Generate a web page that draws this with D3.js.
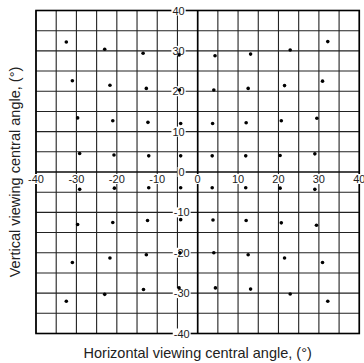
<!DOCTYPE html>
<html lang="en">
<head>
<meta charset="UTF-8">
<title>Viewing central angles</title>
<script src="https://d3js.org/d3.v7.min.js"></script>
<style>
    body { margin: 0; background: #fff; }
    svg { display: block; font-family: "Liberation Sans", Arial, sans-serif; }
</style>
</head>
<body>
<div id="chart"></div>
<script>
    // Measured points (degrees), rows from top to bottom, columns left to right
    const hAngle = [
        -32.5, -23.0, -13.5, -4.6, 4.3, 13.1, 22.9, 32.2,
        -31.0, -21.7, -12.7, -4.5, 4.0, 12.5, 21.5, 30.9,
        -29.7, -21.0, -12.3, -4.2, 3.7, 12.0, 20.7, 29.5,
        -29.2, -20.7, -12.1, -4.2, 3.6, 11.9, 20.4, 29.0,
        -29.2, -20.6, -12.1, -4.2, 3.6, 11.9, 20.4, 29.0,
        -29.7, -21.0, -12.4, -4.2, 3.8, 12.0, 20.7, 29.4,
        -31.0, -21.7, -12.7, -4.4, 4.0, 12.5, 21.5, 30.9,
        -32.5, -23.0, -13.4, -4.6, 4.4, 13.1, 22.9, 32.2
    ];
    const vAngle = [
        32.2, 30.4, 29.4, 29.0, 28.8, 29.2, 30.2, 32.3,
        22.6, 21.5, 20.7, 20.3, 20.3, 20.7, 21.4, 22.5,
        13.4, 12.7, 12.3, 12.0, 12.0, 12.2, 12.7, 13.3,
        4.6, 4.2, 4.0, 4.0, 4.0, 4.0, 4.1, 4.5,
        -4.3, -4.0, -3.9, -3.9, -3.9, -3.9, -4.0, -4.3,
        -13.0, -12.5, -12.0, -11.8, -11.9, -12.0, -12.6, -13.2,
        -22.4, -21.3, -20.5, -20.0, -20.0, -20.5, -21.3, -22.4,
        -32.0, -30.3, -29.1, -28.7, -28.7, -29.0, -30.2, -32.0
    ];
    const gridValues = d3.range(-40, 41, 5);
    const tickValues = [-40, -30, -20, -10, 0, 10, 20, 30, 40];

    const points = hAngle.map((h, i) => ({ h: h, v: vAngle[i] }));

    const W = 364, H = 363;
    const svg = d3.select("#chart").append("svg")
        .attr("width", W)
        .attr("height", H);

    const x = d3.scaleLinear().domain([-40, 40]).range([36, 359.3]);
    const y = d3.scaleLinear().domain([-40, 40]).range([333.5, 10.5]);

    // grid
    const grid = svg.append("g").attr("stroke", "#222").attr("stroke-width", 1.1);
    grid.selectAll(".gx").data(gridValues).join("line")
        .attr("x1", d => x(d)).attr("x2", d => x(d))
        .attr("y1", y(40)).attr("y2", y(-40));
    grid.selectAll(".gy").data(gridValues).join("line")
        .attr("y1", d => y(d)).attr("y2", d => y(d))
        .attr("x1", x(-40)).attr("x2", x(40));

    // frame and central axes
    svg.append("rect")
        .attr("x", x(-40)).attr("y", y(40))
        .attr("width", x(40) - x(-40)).attr("height", y(-40) - y(40))
        .attr("fill", "none").attr("stroke", "#000").attr("stroke-width", 1.6);
    svg.append("line")
        .attr("x1", x(0)).attr("x2", x(0))
        .attr("y1", y(40)).attr("y2", y(-40))
        .attr("stroke", "#000").attr("stroke-width", 1.6);
    svg.append("line")
        .attr("x1", x(-40)).attr("x2", x(40))
        .attr("y1", y(0)).attr("y2", y(0))
        .attr("stroke", "#000").attr("stroke-width", 1.2);

    // tick labels with white background
    function label(g, tx, ty, text, anchor) {
        const t = g.append("text")
            .attr("x", tx).attr("y", ty)
            .attr("text-anchor", anchor)
            .attr("font-size", 11)
            .attr("fill", "#222")
            .text(text);
        const b = t.node().getBBox();
        g.insert("rect", "text")
            .attr("x", b.x - 1).attr("y", b.y + 1)
            .attr("width", b.width + 2).attr("height", b.height - 2)
            .attr("fill", "#fff");
    }

    tickValues.forEach(d => {
        const g = svg.append("g");
        label(g, x(d), y(0) + 11, d, "middle");
    });
    tickValues.forEach(d => {
        const g = svg.append("g");
        label(g, d < 0 ? x(0) - 8 : x(0) - 13, y(d) + 4, d, "end");
    });

    // points
    svg.append("g").selectAll("circle").data(points).join("circle")
        .attr("cx", d => x(d.h))
        .attr("cy", d => y(d.v))
        .attr("r", 1.8)
        .attr("fill", "#000");

    // axis titles
    svg.append("text")
        .attr("x", x(0))
        .attr("y", 358)
        .attr("text-anchor", "middle")
        .attr("font-size", 14.5)
        .attr("fill", "#222")
        .text("Horizontal viewing central angle, (°)");

    svg.append("text")
        .attr("transform", `translate(20,${y(0)}) rotate(-90)`)
        .attr("text-anchor", "middle")
        .attr("font-size", 14.5)
        .attr("fill", "#222")
        .text("Vertical viewing central angle, (°)");
</script>
</body>
</html>
